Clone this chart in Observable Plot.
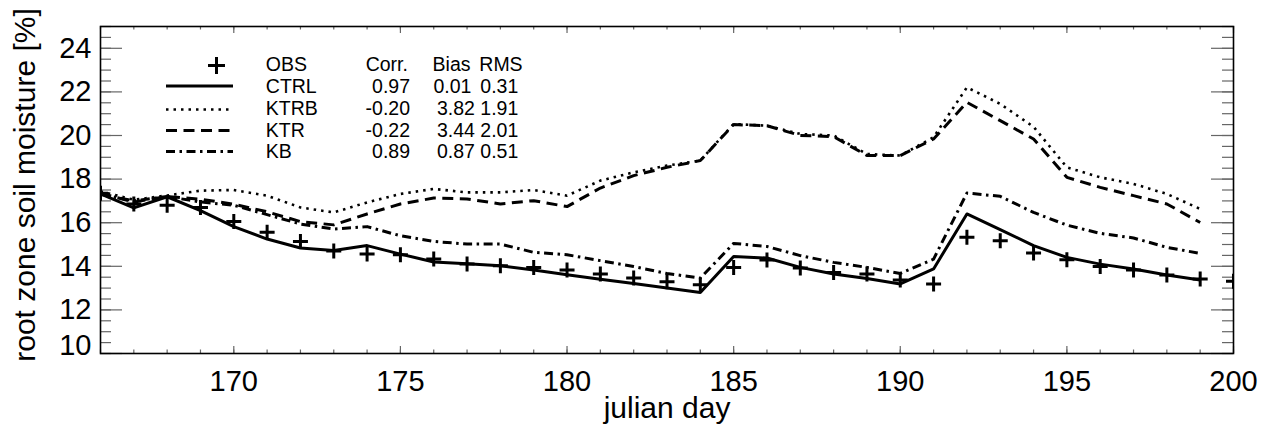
<!DOCTYPE html>
<html>
<head>
<meta charset="utf-8">
<script src="https://cdn.jsdelivr.net/npm/d3@7"></script>
<script src="https://cdn.jsdelivr.net/npm/@observablehq/plot@0.6"></script>
<style>
  html, body { margin: 0; padding: 0; background: white; }
  #chart { width: 1275px; height: 430px; }
</style>
</head>
<body>
<div id="chart"></div>
<script>
// ---- data ----
const obsDays = d3.range(166, 201);
const modelDays = d3.range(166, 200);

const obsValues = [17.35, 16.86, 16.80, 16.70, 16.06, 15.56, 15.14, 14.70, 14.56, 14.53,
  14.33, 14.10, 14.03, 13.95, 13.83, 13.65, 13.46, 13.29, 13.15, 13.95,
  14.29, 13.92, 13.72, 13.65, 13.37, 13.19, 15.33, 15.17, 14.61, 14.30,
  13.99, 13.83, 13.60, 13.42, 13.31];

const ctrlValues = [17.32, 16.68, 17.19, 16.55, 15.82, 15.25, 14.84, 14.72, 14.95, 14.56,
  14.20, 14.12, 14.03, 13.83, 13.61, 13.41, 13.21, 13.00, 12.80, 14.45,
  14.38, 13.95, 13.65, 13.44, 13.19, 13.88, 16.40, 15.68, 14.95, 14.41,
  14.10, 13.88, 13.60, 13.37];

const ktrbValues = [17.44, 17.05, 17.25, 17.47, 17.50, 17.24, 16.70, 16.47, 16.93, 17.32,
  17.55, 17.39, 17.39, 17.50, 17.24, 17.93, 18.31, 18.62, 18.85, 20.53,
  20.45, 20.07, 20.00, 19.15, 19.08, 19.92, 22.21, 21.45, 20.40, 18.54,
  18.08, 17.78, 17.32, 16.63];

const ktrValues = [17.35, 16.95, 17.20, 17.08, 16.85, 16.50, 16.05, 15.90, 16.40, 16.86,
  17.13, 17.09, 16.86, 17.01, 16.74, 17.59, 18.16, 18.54, 18.85, 20.50,
  20.45, 20.00, 19.95, 19.08, 19.08, 19.84, 21.52, 20.68, 19.84, 18.08,
  17.62, 17.24, 16.86, 16.01];

const kbValues = [17.30, 17.00, 17.20, 16.95, 16.80, 16.37, 15.94, 15.71, 15.82, 15.40,
  15.14, 15.02, 15.02, 14.64, 14.53, 14.26, 13.99, 13.67, 13.46, 15.05,
  14.91, 14.49, 14.18, 13.95, 13.67, 14.33, 17.36, 17.21, 16.47, 15.89,
  15.51, 15.30, 14.87, 14.59];

const xTickLabels = [170, 175, 180, 185, 190, 195, 200];
const yTickLabels = [10, 12, 14, 16, 18, 20, 22, 24];

const legendNames = ["OBS", "CTRL", "KTRB", "KTR", "KB"];
const legendHeaders = ["Corr.", "Bias", "RMS"];
const corrValues = ["0.97", "-0.20", "-0.22", "0.89"];
const biasValues = ["0.01", "3.82", "3.44", "0.87"];
const rmsValues = ["0.31", "1.91", "2.01", "0.51"];

// ---- tables ----
const obs = obsDays.map((d, i) => ({day: d, v: obsValues[i]}));
const mk = (vals) => modelDays.map((d, i) => ({day: d, v: vals[i]}));
const ctrl = mk(ctrlValues), ktrb = mk(ktrbValues), ktr = mk(ktrValues), kb = mk(kbValues);

// ---- layout ----
const W = 1275, H = 430;
const mL = 100, mR = 42, mT = 26, mB = 77;
const plotW = W - mL - mR, plotH = H - mT - mB;
const font = "'Liberation Sans', Arial, Helvetica, sans-serif";

const dashes = {
  ctrl: null,
  ktrb: "2.5 5",
  ktr: "11 6.5",
  kb: "9 4.5 2.5 4.5"
};

const xMinor = d3.range(166, 201);
const xMajor = xTickLabels;
const yMinor = d3.range(10, 25.01, 0.5);
const yMajor = yTickLabels;
const tickColor = "#666";

const chart = Plot.plot({
  width: W, height: H,
  marginLeft: mL, marginRight: mR, marginTop: mT, marginBottom: mB,
  x: {domain: [166, 200]},
  y: {domain: [10, 25]},
  style: {fontFamily: font, background: "white", color: "black", overflow: "visible"},
  marks: [
    // inward ticks, left & right
    Plot.tickY(yMinor, {y: d => d, insetRight: plotW - 11, stroke: tickColor, strokeWidth: 1.2}),
    Plot.tickY(yMajor, {y: d => d, insetRight: plotW - 22, stroke: tickColor, strokeWidth: 1.2}),
    Plot.tickY(yMinor, {y: d => d, insetLeft: plotW - 11, stroke: tickColor, strokeWidth: 1.2}),
    Plot.tickY(yMajor, {y: d => d, insetLeft: plotW - 22, stroke: tickColor, strokeWidth: 1.2}),
    // inward ticks, bottom & top
    Plot.tickX(xMinor, {x: d => d, insetTop: plotH - 3.5, stroke: tickColor, strokeWidth: 1.2}),
    Plot.tickX(xMajor, {x: d => d, insetTop: plotH - 7, stroke: tickColor, strokeWidth: 1.2}),
    Plot.tickX(xMinor, {x: d => d, insetBottom: plotH - 3.5, stroke: tickColor, strokeWidth: 1.2}),
    Plot.tickX(xMajor, {x: d => d, insetBottom: plotH - 7, stroke: tickColor, strokeWidth: 1.2}),
    // axes labels
    Plot.axisX({ticks: xTickLabels, tickSize: 0, tickPadding: 17, fontSize: 29, label: null, tickFormat: d => String(d)}),
    Plot.axisY({ticks: yTickLabels.filter(d => d !== 10), tickSize: 0, tickPadding: 9, fontSize: 29, label: null, tickFormat: d => String(d)}),
    Plot.axisY({ticks: [10], tickSize: 0, tickPadding: 9, dy: -8, fontSize: 29, label: null, tickFormat: d => String(d)}),
    Plot.text(["julian day"], {frameAnchor: "bottom", textAnchor: "middle", lineAnchor: "middle", dy: 55, fontSize: 30}),
    Plot.text(["root zone soil moisture [%]"], {frameAnchor: "left", textAnchor: "middle", lineAnchor: "middle", dx: -75.5, dy: -5, rotate: -90, fontSize: 30}),
    // series
    Plot.line(ktrb, {x: "day", y: "v", stroke: "black", strokeWidth: 2.6, strokeDasharray: dashes.ktrb, strokeLinecap: "butt"}),
    Plot.line(ktr, {x: "day", y: "v", stroke: "black", strokeWidth: 3, strokeDasharray: dashes.ktr, strokeLinecap: "butt"}),
    Plot.line(kb, {x: "day", y: "v", stroke: "black", strokeWidth: 3, strokeDasharray: dashes.kb, strokeLinecap: "butt"}),
    Plot.line(ctrl, {x: "day", y: "v", stroke: "black", strokeWidth: 3, strokeLinecap: "butt"}),
    Plot.dot(obs, {x: "day", y: "v", symbol: "plus", r: 4.9, stroke: "black", strokeWidth: 3, clip: true}),
    Plot.frame({stroke: "black", strokeWidth: 1.6})
  ]
});

document.getElementById("chart").appendChild(chart);

// ---- legend (annotation) ----
const svg = d3.select(chart);
const lg = svg.append("g").attr("font-family", font).attr("font-size", 19.5)
  .attr("fill", "black").attr("text-anchor", "start");
const baselines = [70.7, 93.0, 114.8, 136.6, 158.4];
const lineYs = [null, 86, 109.5, 130.5, 151.5];
const lineDash = [null, dashes.ctrl, dashes.ktrb, dashes.ktr, dashes.kb];
const lineW = [null, 3, 2.6, 3, 3];

lg.append("path")
  .attr("d", d3.symbol(d3.symbolPlus, 96)())
  .attr("transform", "translate(216.5,65.5)")
  .attr("fill", "none").attr("stroke", "black").attr("stroke-width", 3);

for (let i = 1; i < legendNames.length; i++) {
  lg.append("line")
    .attr("x1", 166).attr("x2", 233)
    .attr("y1", lineYs[i]).attr("y2", lineYs[i])
    .attr("stroke", "black").attr("stroke-width", lineW[i])
    .attr("stroke-dasharray", lineDash[i]);
}
legendNames.forEach((n, i) => {
  lg.append("text").attr("x", 265.8).attr("y", baselines[i]).text(n);
});
const headerX = [365.7, 432.6, 479.3];
legendHeaders.forEach((h, j) => {
  lg.append("text").attr("x", headerX[j]).attr("y", baselines[0]).text(h);
});
corrValues.forEach((v, i) => {
  lg.append("text").attr("x", 410).attr("y", baselines[i + 1]).attr("text-anchor", "end").text(v);
});
biasValues.forEach((v, i) => {
  lg.append("text").attr("x", i === 0 ? 433.5 : 437).attr("y", baselines[i + 1]).text(v);
});
rmsValues.forEach((v, i) => {
  lg.append("text").attr("x", 480.3).attr("y", baselines[i + 1]).text(v);
});
</script>
</body>
</html>
